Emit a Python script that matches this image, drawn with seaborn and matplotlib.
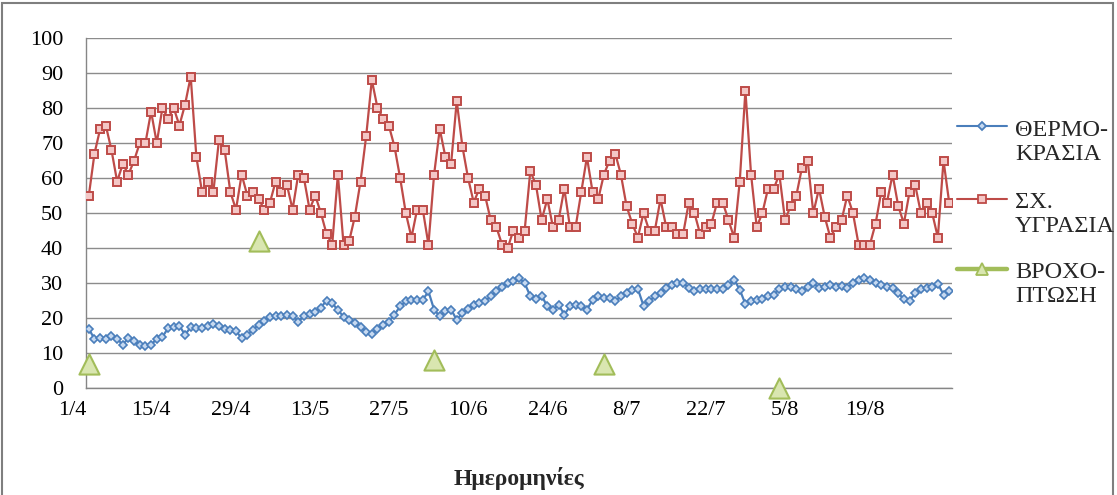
import numpy as np
import pandas as pd
import matplotlib.pyplot as plt
import matplotlib.transforms as mtransforms
from matplotlib.lines import Line2D
from matplotlib.patches import Rectangle
import seaborn as sns

sns.set_style('white')
plt.rcParams['font.family'] = ['Liberation Serif', 'DejaVu Serif']

# daily values 1/4 .. 31/8
temperature = [16.9, 14, 14.3, 14, 14.8, 14, 12.4, 14.3, 13.3, 12.4, 12.1, 12.4, 14, 14.6,
               17.1, 17.4, 17.8, 15.2, 17.4, 17.1, 17.1, 17.8, 18.4, 17.8, 16.9, 16.7, 16.2, 14.3,
               15.2, 16.7, 18.1, 19.2, 20.2, 20.7, 20.7, 21, 20.5, 19, 20.5, 21.2, 21.8, 23,
               25, 24.2, 22.3, 20.4, 19.4, 18.5, 17.5, 16.1, 15.4, 17, 18, 19, 21, 23.3,
               24.8, 25.2, 25.2, 25.2, 27.6, 22.4, 20.5, 21.9, 22.4, 19.5, 21.4, 22.6, 23.8, 24.3,
               24.8, 26.2, 27.6, 29, 30, 30.7, 31.4, 30, 26.2, 25.4, 26.4, 23.3, 22.4, 23.8,
               21, 23.3, 23.8, 23.3, 22.4, 25.2, 26.4, 25.7, 25.7, 24.8, 26.2, 27.1, 28.1, 28.3,
               23.5, 24.8, 26.2, 27.1, 28.6, 29.5, 30, 30, 28.6, 27.6, 28.3, 28.3, 28.3, 28.3,
               28.3, 29.5, 31, 28.1, 24, 24.8, 25.2, 25.4, 26.2, 26.7, 28.3, 29, 29, 28.3,
               27.6, 29, 30, 28.6, 29, 29.5, 29, 29.2, 28.6, 30, 31, 31.4, 31, 30,
               29.5, 29, 28.6, 27.1, 25.4, 25, 27.1, 28.3, 28.6, 29, 29.8, 26.7, 27.6]
humidity = [55, 67, 74, 75, 68, 59, 64, 61, 65, 70, 70, 79, 70, 80,
            77, 80, 75, 81, 89, 66, 56, 59, 56, 71, 68, 56, 51, 61,
            55, 56, 54, 51, 53, 59, 56, 58, 51, 61, 60, 51, 55, 50,
            44, 41, 61, 41, 42, 49, 59, 72, 88, 80, 77, 75, 69, 60,
            50, 43, 51, 51, 41, 61, 74, 66, 64, 82, 69, 60, 53, 57,
            55, 48, 46, 41, 40, 45, 43, 45, 62, 58, 48, 54, 46, 48,
            57, 46, 46, 56, 66, 56, 54, 61, 65, 67, 61, 52, 47, 43,
            50, 45, 45, 54, 46, 46, 44, 44, 53, 50, 44, 46, 47, 53,
            53, 48, 43, 59, 85, 61, 46, 50, 57, 57, 61, 48, 52, 55,
            63, 65, 50, 57, 49, 43, 46, 48, 55, 50, 41, 41, 41, 47,
            56, 53, 61, 52, 47, 56, 58, 50, 53, 50, 43, 65, 53]
# monthly rainfall, plotted on the 1st of each month
rain_days = [0, 30, 61, 91, 122]
rain = [7, 42, 8, 7, 0]

tick_labels = ['1/4', '15/4', '29/4', '13/5', '27/5', '10/6', '24/6',
               '8/7', '22/7', '5/8', '19/8']
legend_labels = [('ΘΕΡΜΟ-', 'ΚΡΑΣΙΑ'), ('ΣΧ.', 'ΥΓΡΑΣΙΑ'), ('ΒΡΟΧΟ-', 'ΠΤΩΣΗ')]

df = pd.DataFrame({'day': np.arange(len(humidity)), 'temp': temperature, 'hum': humidity})
rain_df = pd.DataFrame({'day': rain_days, 'rain': rain})

blue, blue_fill = '#4A7EBB', '#C6D9F1'
red, red_fill = '#BE4B48', '#F4C7C6'
green, green_fill = '#A2BD5A', '#D9E6B0'

W, H = 1117, 495
fig = plt.figure(figsize=(W / 100, H / 100), dpi=100)
ax = fig.add_axes([86 / W, 107 / H, 866 / W, 350 / H])

ax.yaxis.grid(True, color='#8C8C8C', linewidth=1.0)
ax.set_axisbelow(True)

sns.lineplot(data=df, x='day', y='hum', ax=ax, color=red, linewidth=1.6,
             marker='s', markersize=6.3, markerfacecolor=red_fill,
             markeredgecolor=red, markeredgewidth=1.4, zorder=3)
sns.lineplot(data=df, x='day', y='temp', ax=ax, color=blue, linewidth=1.6,
             marker='D', markersize=4.3, markerfacecolor=blue_fill,
             markeredgecolor=blue, markeredgewidth=1.2, zorder=3)
sns.scatterplot(data=rain_df, x='day', y='rain', ax=ax, marker='^', s=210,
                color=green_fill, edgecolor=green, linewidth=1.5, zorder=4,
                clip_on=False)

n = len(humidity)
ax.set_xlim(-0.5, n - 0.5)
ax.set_ylim(0, 100)
ax.set_yticks(np.arange(0, 101, 10))
ax.set_xticks(np.arange(0, n, 14) - 0.5)
ax.set_xticklabels(tick_labels)

for s in ['top', 'right']:
    ax.spines[s].set_visible(False)
for s in ['left', 'bottom']:
    ax.spines[s].set_color('#868686')
    ax.spines[s].set_linewidth(1.0)

ax.tick_params(axis='both', direction='out', length=4.3, width=1.0, color='#868686',
               labelsize=16, labelcolor='black')
ax.tick_params(axis='y', pad=12)
ax.tick_params(axis='x', pad=5)
shift = mtransforms.ScaledTranslation(-0.14, 0, fig.dpi_scale_trans)
for lab in ax.get_xticklabels():
    lab.set_transform(lab.get_transform() + shift)

ax.set_ylabel('')
ax.set_xlabel('Ημερομηνίες', fontsize=17, fontweight='bold')
ax.xaxis.set_label_coords(0.5, -0.225)

# legend on the right
styles = [(blue, 'D', 4.3, blue_fill, 1.5),
          (red, 's', 6.3, red_fill, 1.5),
          (green, '^', 9.0, green_fill, 3.2)]
legend_y = [126, 199, 269]
for (col, mk, ms, fc, lw), (l1, l2), y in zip(styles, legend_labels, legend_y):
    yf = 1 - y / H
    fig.add_artist(Line2D([957 / W, 1007 / W], [yf, yf], transform=fig.transFigure,
                          color=col, linewidth=lw))
    fig.add_artist(Line2D([982 / W], [yf], transform=fig.transFigure, marker=mk,
                          markersize=ms, markerfacecolor=fc, markeredgecolor=col,
                          markeredgewidth=1.3))
    fig.text(1015 / W, yf - 4 / H, l1, fontsize=17.5, va='center', ha='left')
    fig.text(1015 / W, yf - 28 / H, l2, fontsize=17.5, va='center', ha='left')

# chart area frame
fig.add_artist(Rectangle((2 / W, -0.05), 1111 / W, 1.05 - 3 / H, transform=fig.transFigure,
                         fill=False, edgecolor='#7F7F7F', linewidth=1.5))

fig.savefig('out.png', dpi=100)
